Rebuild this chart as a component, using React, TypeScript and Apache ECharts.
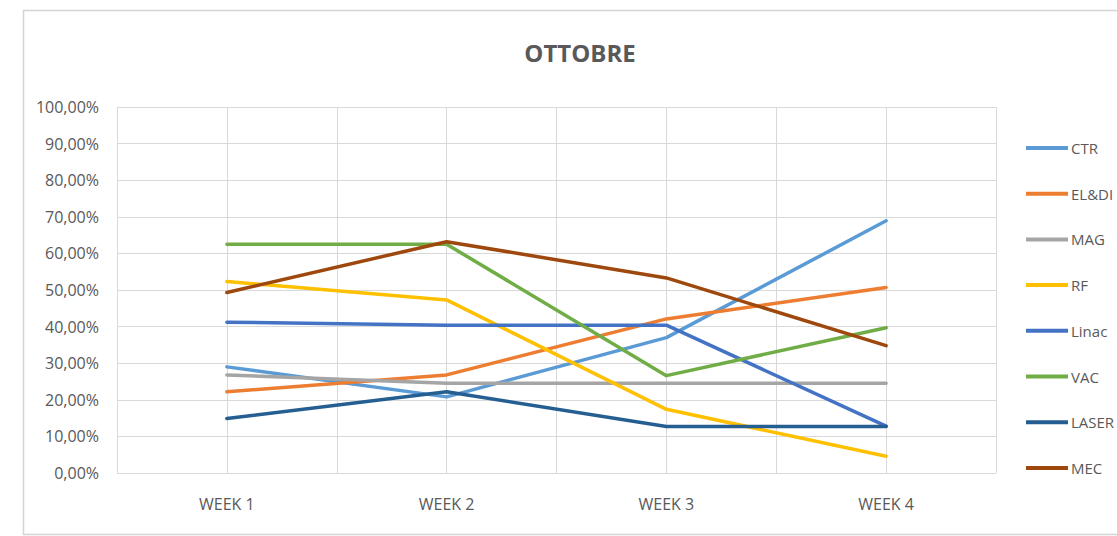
import React, { useEffect, useRef } from "react";
import * as echarts from "echarts";

const weeks = ["WEEK 1", "WEEK 2", "WEEK 3", "WEEK 4"];
const seriesNames = ["CTR", "EL&DI", "MAG", "RF", "Linac", "VAC", "LASER", "MEC"];
const seriesColors = ["#5B9BD5", "#ED7D31", "#A5A5A5", "#FFC000", "#4472C4", "#70AD47", "#255E91", "#9E480E"];

const ctr = [29.0, 20.8, 37.0, 68.9];
const elDi = [22.2, 26.8, 42.1, 50.7];
const mag = [26.8, 24.5, 24.5, 24.5];
const rf = [52.3, 47.3, 17.4, 4.6];
const linac = [41.2, 40.4, 40.4, 12.8];
const vac = [62.5, 62.5, 26.6, 39.7];
const laser = [14.9, 22.2, 12.7, 12.7];
const mec = [49.3, 63.2, 53.3, 34.8];

const seriesValues = [ctr, elDi, mag, rf, linac, vac, laser, mec];

const FONT = "'Open Sans', 'Liberation Sans', Arial, sans-serif";

export default function App() {
  const ref = useRef<HTMLDivElement>(null);

  useEffect(() => {
    if (!ref.current) return;
    const chart = echarts.init(ref.current, undefined, { renderer: "svg" });
    chart.setOption({
      animation: false,
      backgroundColor: "#ffffff",
      graphic: [
        {
          type: "rect",
          shape: { x: 23.5, y: 10.5, width: 1200, height: 524 },
          style: { fill: "#ffffff", stroke: "#d4d4d4", lineWidth: 1.5 },
          z: -10,
        },
        {
          type: "text",
          x: 580,
          y: 52,
          style: {
            text: "OTTOBRE",
            fill: "#595959",
            font: `bold 24px ${FONT}`,
            textAlign: "center",
            textVerticalAlign: "middle",
          },
        },
      ],
      legend: {
        orient: "vertical",
        left: 1026,
        top: 138,
        padding: 0,
        icon: "rect",
        itemWidth: 42,
        itemHeight: 4,
        itemGap: 25.7,
        data: seriesNames,
        textStyle: { color: "#595959", fontSize: 15, fontFamily: FONT, lineHeight: 20, padding: [0, 0, 0, -2] },
      },
      grid: { left: 117, right: 121, top: 107, bottom: 63, containLabel: false },
      xAxis: [
        {
          type: "category",
          data: weeks,
          boundaryGap: true,
          axisLine: { show: false },
          axisTick: { show: false },
          splitLine: { show: false },
          axisLabel: { color: "#595959", fontSize: 16, fontFamily: FONT, margin: 23 },
        },
        {
          type: "category",
          data: ["", "", "", "", "", "", "", ""],
          boundaryGap: true,
          position: "bottom",
          axisLine: { show: false },
          axisTick: { show: false },
          axisLabel: { show: false },
          splitLine: { show: true, lineStyle: { color: "#d9d9d9", width: 1 } },
        },
      ],
      yAxis: {
        type: "value",
        min: 0,
        max: 100,
        interval: 10,
        axisLine: { show: false },
        axisTick: { show: false },
        splitLine: { show: true, lineStyle: { color: "#d9d9d9", width: 1 } },
        axisLabel: {
          color: "#595959",
          fontSize: 16,
          fontFamily: FONT,
          margin: 18,
          formatter: (v: number) => v.toFixed(2).replace(".", ",") + "%",
        },
      },
      series: seriesNames.map((name, i) => ({
        name,
        type: "line",
        xAxisIndex: 0,
        data: seriesValues[i],
        symbol: "none",
        showSymbol: false,
        color: seriesColors[i],
        itemStyle: { color: seriesColors[i] },
        lineStyle: { width: 3.5, color: seriesColors[i], join: "round", cap: "round" },
      })),
    });
    return () => chart.dispose();
  }, []);

  return (
    <div
      ref={ref}
      style={{ position: "fixed", left: 0, top: 0, width: 1117, height: 536 }}
    />
  );
}
